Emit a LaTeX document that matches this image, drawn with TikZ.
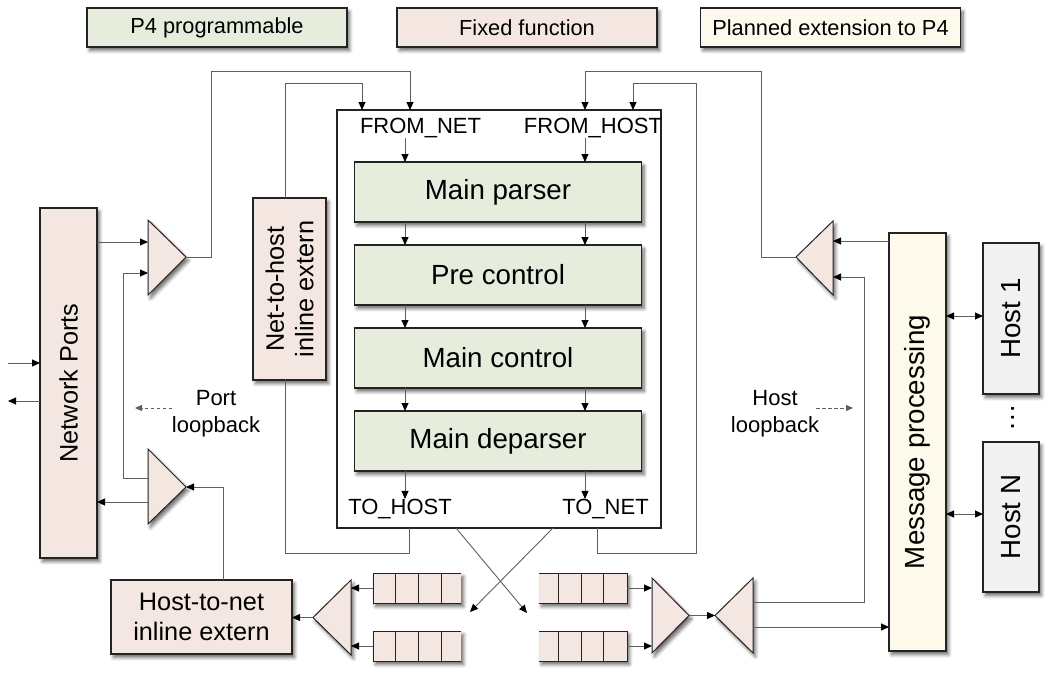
\documentclass[tikz,border=0pt]{standalone}
\usepackage{fontspec}
\setmainfont{Liberation Sans}
\usetikzlibrary{arrows.meta,shadows.blur}
\definecolor{pgreen}{RGB}{230,237,220}
\definecolor{ffix}{RGB}{244,231,225}
\definecolor{plan}{RGB}{253,250,236}
\definecolor{hostg}{RGB}{241,241,241}
\definecolor{edgec}{RGB}{35,35,35}
\definecolor{linec}{RGB}{95,95,95}
\newcommand\fstage{\fontsize{27.7}{31}\selectfont}
\newcommand\fside{\fontsize{25.3}{29.5}\selectfont}
\newcommand\flab{\fontsize{22}{27}\selectfont}
\newcommand\fleg{\fontsize{21.8}{25}\selectfont}
\tikzset{
  shd/.style={blur shadow={shadow xshift=2.5pt, shadow yshift=-3.5pt, shadow blur radius=3.5pt, shadow blur steps=6, shadow opacity=60}},
  blk/.style={draw=edgec, line width=1.1pt, shd, inner sep=0pt, outer sep=0pt, align=center},
  legbox/.style={blk, minimum width=260pt, minimum height=39pt, font=\fleg},
  stagebox/.style={blk, fill=pgreen, minimum width=287pt, minimum height=60pt, font=\fstage},
  lab/.style={font=\flab, inner sep=0pt, align=center},
  tri/.style={fill=ffix, draw=edgec, line width=1pt, shd, line join=miter},
  qbox/.style={fill=ffix, minimum width=88pt, minimum height=30pt, inner sep=0pt, outer sep=0pt, shd},
  qline/.style={draw=edgec, line width=1pt},
  conn/.style={draw=linec, line width=0.9pt},
  arr/.style={conn, -{Triangle[length=8pt,width=7pt,color=black]}},
  dbl/.style={conn, {Triangle[length=8pt,width=7pt,color=black]}-{Triangle[length=8pt,width=7pt,color=black]}},
  dsh/.style={draw=linec, line width=0.9pt, dash pattern=on 3.5pt off 2.5pt, -{Triangle[length=7pt,width=6pt,color=linec]}}
}
\begin{document}
\begin{tikzpicture}[x=1pt,y=-1pt]
\useasboundingbox (0,0) rectangle (1049,675);
% legend
\node[legbox, fill=pgreen] (lg1) at (217,27.5) {P4 programmable};
\node[legbox, fill=ffix] (lg2) at (527,27.5) {Fixed function};
\node[legbox, fill=plan] (lg3) at (830.5,27.5) {Planned extension to P4};
% core
\node[draw=edgec, line width=1.2pt, minimum width=324pt, minimum height=418pt, inner sep=0pt, outer sep=0pt] (core) at (499,319) {};
\node[stagebox] (parser) at (498,192) {Main parser};
\node[stagebox] (pre) at (498,275) {Pre control};
\node[stagebox] (mctl) at (498,358) {Main control};
\node[stagebox] (dep) at (498,441) {Main deparser};
\node[lab] (fn) at (420.5,128) {FROM\_NET};
\node[lab] (fh) at (593,128) {FROM\_HOST};
\node[lab] (th) at (400,509) {TO\_HOST};
\node[lab] (tn) at (605.5,509) {TO\_NET};
\coordinate (cl) at (405,0);
\coordinate (cr) at (585,0);
\draw[arr] (cl |- fn.south) -- (cl |- parser.north);
\draw[arr] (cr |- fh.south) -- (cr |- parser.north);
\draw[arr] (cl |- parser.south) -- (cl |- pre.north);
\draw[arr] (cr |- parser.south) -- (cr |- pre.north);
\draw[arr] (cl |- pre.south) -- (cl |- mctl.north);
\draw[arr] (cr |- pre.south) -- (cr |- mctl.north);
\draw[arr] (cl |- mctl.south) -- (cl |- dep.north);
\draw[arr] (cr |- mctl.south) -- (cr |- dep.north);
\draw[arr] (cl |- dep.south) -- (cl |- th.north);
\draw[arr] (cr |- dep.south) -- (cr |- tn.north);
% side boxes
\node[blk, fill=ffix, minimum width=57pt, minimum height=350pt] (np) at (68.5,383) {};
\node[font=\fside, rotate=90] (npt) at (np.center) {Network Ports};
\node[blk, fill=ffix, minimum width=73pt, minimum height=182pt] (n2h) at (289.5,289) {};
\node[font=\fside, rotate=90, align=center] (n2ht) at (n2h.center) {Net-to-host\\inline extern};
\node[blk, fill=ffix, minimum width=181pt, minimum height=74pt, font=\fside] (h2n) at (201.5,617) {Host-to-net\\inline extern};
\node[blk, fill=plan, minimum width=57pt, minimum height=418pt] (mp) at (917.5,442) {};
\node[font=\fstage, rotate=90] (mpt) at (mp.center) {Message processing};
\node[blk, fill=hostg, minimum width=56pt, minimum height=151pt] (h1) at (1011,318.5) {};
\node[font=\fstage, rotate=90] (h1t) at (h1.center) {Host 1};
\node[blk, fill=hostg, minimum width=56pt, minimum height=150pt] (hn) at (1011,517) {};
\node[font=\fstage, rotate=90] (hnt) at (hn.center) {Host N};
\node[font=\fstage, rotate=90, inner sep=0pt] (dots) at (1013,418) {…};
% triangles
\path[tri] (148,220) -- (148,295) -- (186,257) coordinate (t1) -- cycle;
\path[tri] (148,449) -- (148,524) -- (186,487) coordinate (t2) -- cycle;
\path[tri] (833,221) -- (833,295) -- (796,257) coordinate (t3) -- cycle;
\path[tri] (351,580) -- (351,655) -- (313,617.5) coordinate (t4) -- cycle;
\path[tri] (652,578) -- (652,653) -- (689,615.5) coordinate (t5) -- cycle;
\path[tri] (753,578) -- (753,653) -- (715,615.5) coordinate (t6) -- cycle;
\coordinate (t1i1) at (148,242);
\coordinate (t1i2) at (148,273);
\coordinate (t2o1) at (148,478);
\coordinate (t2o2) at (148,502);
\coordinate (t3i1) at (833,241);
\coordinate (t3i2) at (833,277);
\coordinate (t4r) at (351,617);
\coordinate (t5l) at (652,617);
\coordinate (t6o1) at (753,602);
\coordinate (t6o2) at (753,627);
% queues
\node[qbox] (q1) at (417,588) {};
\node[qbox] (q2) at (417,646) {};
\node[qbox] (q3) at (583,588) {};
\node[qbox] (q4) at (583,646) {};
\foreach \q in {q1,q2}{
  \draw[qline] (\q.north east) -- (\q.north west) -- (\q.south west) -- (\q.south east);
  \foreach \x in {22,45,68} \draw[qline] ([xshift=\x pt]\q.north west) -- ([xshift=\x pt]\q.south west);
}
\foreach \q in {q3,q4}{
  \draw[qline] (\q.north west) -- (\q.north east) -- (\q.south east) -- (\q.south west);
  \foreach \x in {24,46,69} \draw[qline] ([xshift=-\x pt]\q.north east) -- ([xshift=-\x pt]\q.south east);
}
% core inputs / outputs
\coordinate (in1) at (362,110);
\coordinate (in2) at (410,110);
\coordinate (in3) at (585,110);
\coordinate (in4) at (633,110);
\coordinate (out1) at (409,528);
\coordinate (out2) at (456,528);
\coordinate (out3) at (553,528);
\coordinate (out4) at (597,528);
\coordinate (x1) at (527,613);
\coordinate (x2) at (470,612);
% connectors
\draw[arr] (t1) -- (211,257) |- (410,71) -- (in2);
\draw[arr] ([xshift=-4.5pt]n2h.north) |- (362,83) -- (in1);
\draw[conn] (out1) -- (409,553) -| ([xshift=-4.5pt]n2h.south);
\draw[arr] (out4) -- (597,553) -| (696,83) -| (in4);
\draw[arr] (t3) -| (761,71) -| (in3);
\draw[arr] (t3i1 -| mp.west) -- (t3i1);
\draw[arr] (t6o1) -| (864,277) -- (t3i2);
\draw[arr] (t6o2) -- (t6o2 -| mp.west);
\draw[arr] (t5) -- (t6);
\draw[arr] (q3.east) -- (q3.east -| t5l);
\draw[arr] (q4.east) -- (q4.east -| t5l);
\draw[arr] (q1.west) -- (q1.west -| t4r);
\draw[arr] (q2.west) -- (q2.west -| t4r);
\draw[arr] (t4) -- (t4 -| h2n.east);
\draw[arr] (out2) -- (x1);
\draw[arr] (out3) -- (x2);
\draw[arr] (np.east |- t1i1) -- (t1i1);
\draw[arr] (t2o1) -| (123,273) -- (t1i2);
\draw[arr] (t2o2) -- (t2o2 -| np.east);
\draw[arr] ([xshift=21.5pt]h2n.north) |- (t2);
\coordinate (ext1) at (8,363);
\coordinate (ext2) at (8,401);
\draw[arr] (ext1) -- (ext1 -| np.west);
\draw[arr] (ext2 -| np.west) -- (ext2);
\draw[dbl] ([yshift=2.5pt]h1.west -| mp.east) -- ([yshift=2.5pt]h1.west);
\draw[dbl] ([yshift=3pt]hn.west -| mp.east) -- ([yshift=3pt]hn.west);
% loopback labels
\node[lab] (pl) at (216,414) {Port\\loopback};
\node[lab] (hl) at (775,414) {Host\\loopback};
\coordinate (pl1) at (172,408);
\coordinate (pl2) at (135,408);
\coordinate (hl1) at (816,408);
\coordinate (hl2) at (853,408);
\draw[dsh] (pl1) -- (pl2);
\draw[dsh] (hl1) -- (hl2);
\end{tikzpicture}
\end{document}
